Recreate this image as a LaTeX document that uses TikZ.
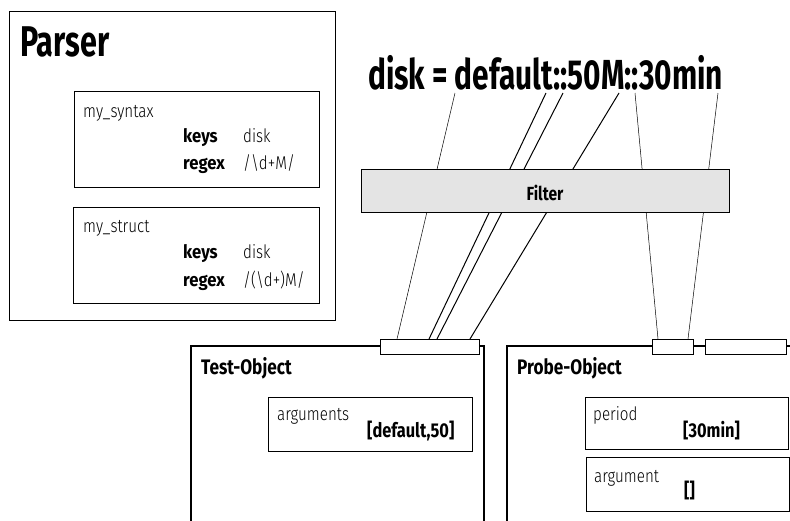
\documentclass[tikz,border=0pt]{standalone}
\usepackage{fontspec}
\setmainfont{Fira Sans}[UprightFont=* Light, BoldFont=* Bold, FakeStretch=0.82, BoldFeatures={FakeStretch=0.9}]
\newfontfamily\bigfont{Fira Sans Bold}[FakeStretch=0.71]
\newfontfamily\midfont{Fira Sans Bold}[FakeStretch=0.82]
\definecolor{filtergray}{HTML}{E4E4E4}
\tikzset{
  frame/.style={draw, line width=1.3pt, anchor=north west, inner sep=0pt},
  tabbox/.style={frame, fill=white},
  lbl/.style={anchor=base west, inner sep=0pt, font=\fontsize{18.5}{18.5}\selectfont},
  keylbl/.style={lbl, font=\fontsize{18.5}{18.5}\selectfont\bfseries},
  valbig/.style={lbl, font=\fontsize{20}{20}\selectfont\midfont},
  objtitle/.style={lbl, font=\fontsize{21}{21}\selectfont\midfont},
  wire/.style={line width=0.5pt},
  wirethick/.style={line width=1pt}
}
\begin{document}
\begin{tikzpicture}[x=1pt, y=-1pt]
\clip (0,0) rectangle (790,520);

% Parser with the two syntax blocks
\node[frame, minimum width=326pt, minimum height=309pt] (parser) at (9,11) {};
\node[lbl, font=\fontsize{43}{43}\selectfont\bigfont] (parsertitle) at (20,56) {Parser};

\node[frame, minimum width=245pt, minimum height=96pt] (syntax) at (74,91) {};
\node[lbl] (syntaxname) at (83,117) {my\_syntax};
\node[keylbl] (syntaxkeys) at (183,142) {keys};
\node[lbl] (syntaxkeysval) at (243,142) {disk};
\node[keylbl] (syntaxregex) at (183,169) {regex};
\node[lbl] (syntaxregexval) at (243,169) {/\textbackslash d+M/};

\node[frame, minimum width=246pt, minimum height=96pt] (struct) at (73,207) {};
\node[lbl] (structname) at (83,232) {my\_struct};
\node[keylbl] (structkeys) at (183,258) {keys};
\node[lbl] (structkeysval) at (243,258) {disk};
\node[keylbl] (structregex) at (183,286) {regex};
\node[lbl] (structregexval) at (243,286) {/(\textbackslash d+)M/};

% Config line
\node[lbl, font=\fontsize{42}{42}\selectfont\bigfont] (config) at (368,89) {disk = default::50M::30min};

% Wires from the config line down to the tabs
\foreach \n/\xa/\xb/\s in {1/455/397/wire, 2/546/429/wirethick, 3/563/437/wirethick,
                           4/619/470/wirethick, 5/635/658/wire, 6/718/688/wire} {
  \coordinate (top\n) at (\xa,93);
  \coordinate (bot\n) at (\xb,339);
  \draw[\s] (top\n) -- (bot\n);
}

% Filter
\node[frame, fill=filtergray, minimum width=368pt, minimum height=43pt] (filter) at (361,169) {};
\node[lbl, anchor=base, font=\fontsize{19}{19}\selectfont\midfont] (filterlbl) at (545,200) {Filter};

% Test-Object
\draw[line width=1.3pt] (191,530) -- (191,346) -- (484,346) -- (484,530);
\node[tabbox, minimum width=99pt, minimum height=15pt] (testtab) at (380,339) {};
\node[objtitle] (testtitle) at (201,374) {Test-Object};
\node[frame, minimum width=204pt, minimum height=54pt] (args) at (268,397) {};
\node[lbl] (argsname) at (277,420) {arguments};
\node[valbig] (argsval) at (367,437) {[default,50]};

% Probe-Object
\draw[line width=1.3pt] (507,530) -- (507,346) -- (795,346);
\node[tabbox, minimum width=41pt, minimum height=15pt] (probetab) at (652,339) {};
\node[tabbox, minimum width=81pt, minimum height=15pt] (probetabb) at (705,339) {};
\node[objtitle] (probetitle) at (517,374) {Probe-Object};
\node[frame, minimum width=203pt, minimum height=52pt] (period) at (585,397) {};
\node[lbl] (periodname) at (593,420) {period};
\node[valbig] (periodval) at (683,437) {[30min]};
\node[frame, minimum width=203pt, minimum height=54pt] (argument) at (586,457) {};
\node[lbl] (argumentname) at (594,482) {argument};
\node[valbig] (argumentval) at (684,497) {[]};

\end{tikzpicture}
\end{document}
